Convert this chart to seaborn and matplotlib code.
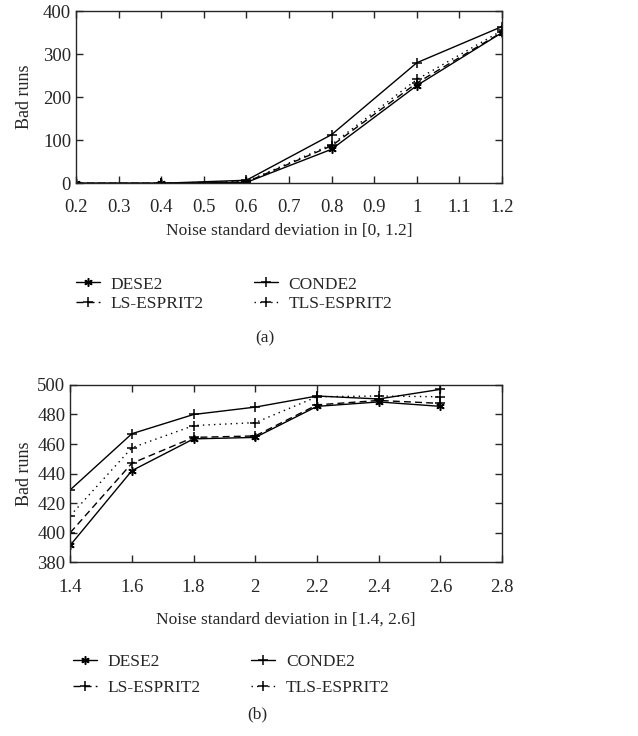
import numpy as np
import pandas as pd
from matplotlib import pyplot as plt
import seaborn as sns

sns.set_style('ticks')
plt.rcParams['font.family'] = ['Liberation Serif', 'DejaVu Serif']
plt.rcParams['xtick.direction'] = 'in'
plt.rcParams['ytick.direction'] = 'in'
plt.rcParams['xtick.top'] = True
plt.rcParams['ytick.right'] = True

series = ['DESE2', 'LS-ESPRIT2', 'CONDE2', 'TLS-ESPRIT2']

# (a) noise in [0, 1.2]
x_a = [0.2, 0.4, 0.6, 0.8, 1.0, 1.2]
dese_a = [0, 0, 2, 79, 227, 350]
ls_a = [0, 0, 3, 87, 233, 351]
conde_a = [0, 0, 7, 113, 280, 364]
tls_a = [0, 0, 4, 90, 241, 355]

# (b) noise in [1.4, 2.6]
x_b = [1.4, 1.6, 1.8, 2.0, 2.2, 2.4, 2.6]
dese_b = [391.5, 442, 463.5, 464.5, 485.5, 488.5, 485.5]
ls_b = [400, 447, 464.5, 465.5, 486.5, 489.5, 487.5]
conde_b = [429, 467, 480, 485, 492.5, 490.5, 497]
tls_b = [411.5, 457.5, 472.5, 474.5, 492, 492.5, 492]

styles = {
    'DESE2': dict(linestyle='-', marker=(6, 2, 0), markersize=6),
    'LS-ESPRIT2': dict(linestyle=(0, (5, 3)), marker='+', markersize=6.5),
    'CONDE2': dict(linestyle='-', marker='+', markersize=6.5),
    'TLS-ESPRIT2': dict(linestyle=(0, (1, 3)), marker='+', markersize=6.5),
}

fig = plt.figure(figsize=(6.38, 7.36), dpi=100)
ax1 = fig.add_axes([0.119, 0.751, 0.668, 0.234])
ax2 = fig.add_axes([0.110, 0.236, 0.677, 0.241])


def draw(ax, x, vals, pad):
    for name, y in zip(series, vals):
        df = pd.DataFrame({'x': x, 'y': y})
        sns.lineplot(data=df, x='x', y='y', ax=ax, color='black', linewidth=1.0,
                     markeredgecolor='black', markerfacecolor='black',
                     markeredgewidth=1.1, label=name, **styles[name])
    for s in ax.spines.values():
        s.set_linewidth(1.0)
    ax.tick_params(labelsize=13.5, length=5, width=1.0)
    ax.tick_params(axis='x', pad=pad)
    ax.set_ylabel('Bad runs', fontsize=13)


leg_kw = dict(loc='upper left', ncol=2, frameon=False, fontsize=12.5,
              handlelength=1.4, handletextpad=0.6, columnspacing=2.9)

draw(ax1, x_a, [dese_a, ls_a, conde_a, tls_a], 11)
ax1.set_xlim(0.2, 1.2)
ax1.set_ylim(0, 400)
ax1.set_xticks(np.arange(0.2, 1.21, 0.1))
ax1.set_xticklabels(['0.2', '0.3', '0.4', '0.5', '0.6', '0.7', '0.8', '0.9', '1', '1.1', '1.2'])
ax1.set_yticks([0, 100, 200, 300, 400])
ax1.set_xlabel('Noise standard deviation in [0, 1.2]', fontsize=12.5, labelpad=5)
ax1.yaxis.set_label_coords(-0.1, 0.5)
ax1.legend(bbox_to_anchor=(-0.037, -0.45), labelspacing=0.2, **leg_kw)
fig.text(0.415, 1 - 338 / 736, '(a)', ha='center', va='center', fontsize=12.5)

draw(ax2, x_b, [dese_b, ls_b, conde_b, tls_b], 12)
ax2.set_xlim(1.4, 2.8)
ax2.set_ylim(380, 500)
ax2.set_xticks([1.4, 1.6, 1.8, 2.0, 2.2, 2.4, 2.6, 2.8])
ax2.set_xticklabels(['1.4', '1.6', '1.8', '2', '2.2', '2.4', '2.6', '2.8'])
ax2.set_yticks([380, 400, 420, 440, 460, 480, 500])
ax2.set_xlabel('Noise standard deviation in [1.4, 2.6]', fontsize=12.5, labelpad=11)
ax2.yaxis.set_label_coords(-0.085, 0.5)
ax2.legend(bbox_to_anchor=(-0.03, -0.43), labelspacing=0.55, **leg_kw)
fig.text(0.403, 1 - 714 / 736, '(b)', ha='center', va='center', fontsize=12.5)

fig.savefig('out.png', dpi=100)
